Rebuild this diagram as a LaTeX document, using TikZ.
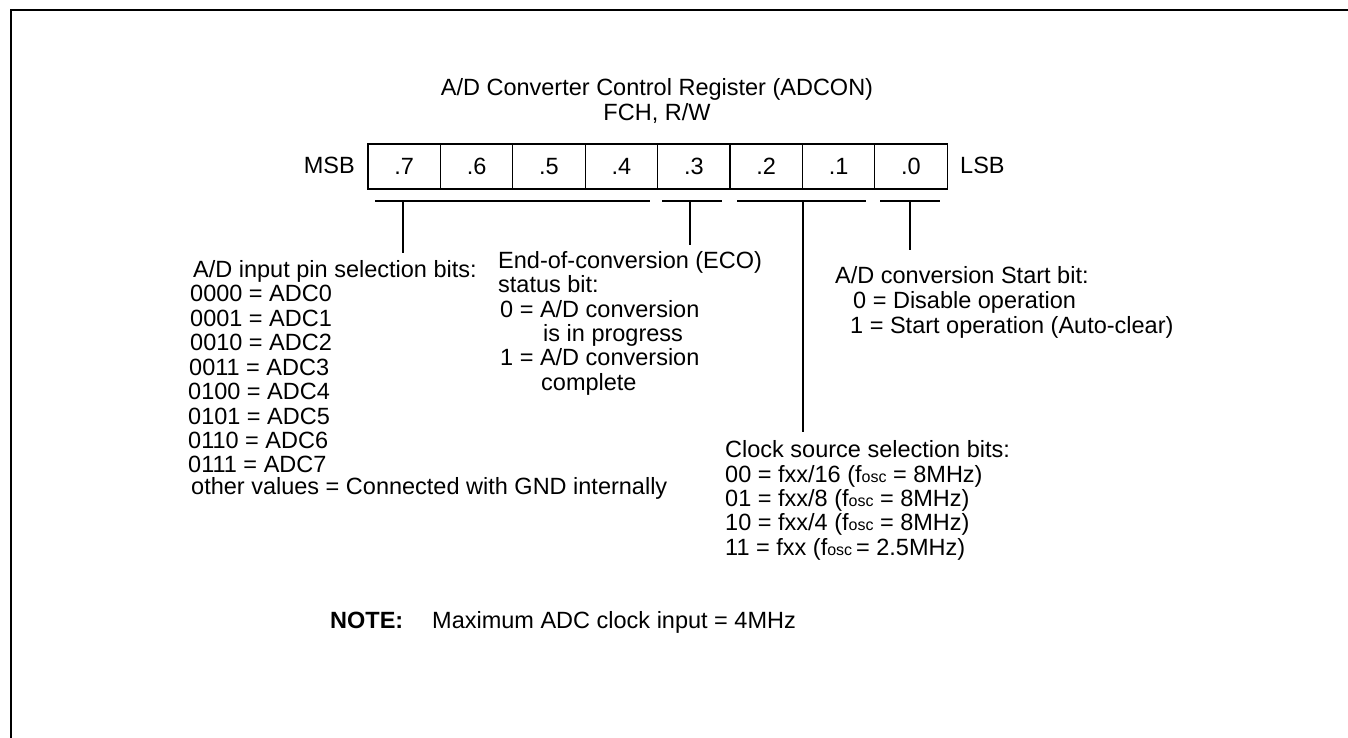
\documentclass[tikz,border=0pt]{standalone}
\usepackage{fontspec}
\setmainfont{Liberation Sans}
\newcommand{\oscsub}{{\fontsize{16}{16}\selectfont osc}}
\begin{document}
\begin{tikzpicture}[x=1pt,y=-1pt,
  txt/.style={inner sep=0pt, anchor=base west, text height=16.5pt, text depth=4.5pt, font=\fontsize{23.5}{26}\selectfont},
  ctxt/.style={txt, anchor=base},
  cell/.style={draw, line width=1.3pt, minimum width=72.4pt, minimum height=45pt, inner sep=0pt, font=\fontsize{23.5}{26}\selectfont},
  rule/.style={line width=1.3pt},
  frame/.style={line width=2pt}]
\useasboundingbox (0,0) rectangle (1348,738);
\draw[frame] (11,738) -- (11,10) -- (1348,10);

% title
\node[ctxt] (title1) at (657,96) {A/D Converter Control Register (ADCON)};
\node[ctxt] (title2) at (657,121) {FCH, R/W};

% register
\foreach \b [count=\k from 0] in {7,6,5,4,3,2,1,0}
  \node[cell] (c\b) at ({368+36.2+72.4*\k},166.5) {.\b};
\node[txt, anchor=base east] (msb) at (355,174) {MSB};
\node[txt] (lsb) at (960,174) {LSB};

% brackets
\coordinate (b1a) at (375,201); \coordinate (b1b) at (650,201);
\coordinate (b2a) at (662,201); \coordinate (b2b) at (722,201);
\coordinate (b3a) at (737,201); \coordinate (b3b) at (866,201);
\coordinate (b4a) at (880,201); \coordinate (b4b) at (940,201);
\draw[rule] (b1a) -- (b1b);
\draw[rule] (b2a) -- (b2b);
\draw[rule] (b3a) -- (b3b);
\draw[rule] (b4a) -- (b4b);
\coordinate (v1a) at (403,201); \coordinate (v1b) at (403,253);
\coordinate (v2a) at (690,201); \coordinate (v2b) at (690,245);
\coordinate (v3a) at (803,201); \coordinate (v3b) at (803,432);
\coordinate (v4a) at (910,201); \coordinate (v4b) at (910,250);
\draw[rule] (v1a) -- (v1b);
\draw[rule] (v2a) -- (v2b);
\draw[rule] (v3a) -- (v3b);
\draw[rule] (v4a) -- (v4b);

% input pin selection
\node[txt] (p0) at (193,277) {A/D input pin selection bits:};
\node[txt] (p1) at (190,301) {0000 = ADC0};
\node[txt] (p2) at (190,326) {0001 = ADC1};
\node[txt] (p3) at (190,350) {0010 = ADC2};
\node[txt] (p4) at (189,375) {0011 = ADC3};
\node[txt] (p5) at (188,399) {0100 = ADC4};
\node[txt] (p6) at (188,424) {0101 = ADC5};
\node[txt] (p7) at (188,448) {0110 = ADC6};
\node[txt] (p8) at (188,472) {0111 = ADC7};
\node[txt] (p9) at (191,494) {other values = Connected with GND internally};

% ECO
\node[txt] (e0) at (498,268) {End-of-conversion (ECO)};
\node[txt] (e1) at (498,292) {status bit:};
\node[txt] (e2) at (500,317) {0 = A/D conversion};
\node[txt] (e3) at (543,341) {is in progress};
\node[txt] (e4) at (500,365) {1 = A/D conversion};
\node[txt] (e5) at (541,390) {complete};

% start bit
\node[txt] (s0) at (835,283) {A/D conversion Start bit:};
\node[txt] (s1) at (853,308) {0 = Disable operation};
\node[txt] (s2) at (850,333) {1 = Start operation (Auto-clear)};

% clock source
\node[txt] (k0) at (725,457) {Clock source selection bits:};
\node[txt] (k1) at (725,482) {00 = fxx/16 (f\oscsub{} = 8MHz)};
\node[txt] (k2) at (725,506) {01 = fxx/8 (f\oscsub{} = 8MHz)};
\node[txt] (k3) at (725,530) {10 = fxx/4 (f\oscsub{} = 8MHz)};
\node[txt] (k4) at (725,555) {11 = fxx (f\oscsub\,= 2.5MHz)};

% note
\node[txt, font=\fontsize{23.5}{26}\selectfont\bfseries] (n0) at (330,628) {NOTE:};
\node[txt] (n1) at (432,628) {Maximum ADC clock input = 4MHz};
\end{tikzpicture}
\end{document}
